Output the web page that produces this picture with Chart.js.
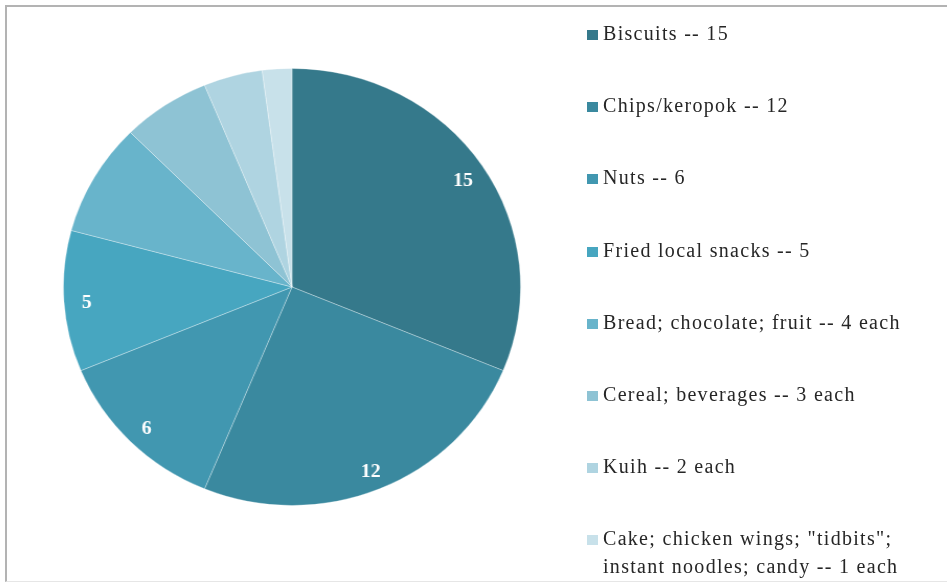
<!DOCTYPE html>
<html>
<head>
<meta charset="utf-8">
<script src="https://cdn.jsdelivr.net/npm/chart.js@4"></script>
<style>
  html, body { margin: 0; padding: 0; background: #fff; }
  body { width: 947px; height: 583px; position: relative; overflow: hidden; }
  #frame { position: absolute; left: 5px; top: 5px; width: 960px; height: 574px;
           border-top: 2px solid #b3b3b3; border-left: 2px solid #b3b3b3; border-bottom: 1px solid #e6e6e6; }
  #pieWrap { position: absolute; left: 73px; top: 68px; width: 438px; height: 438px;
             transform: scaleX(1.046); transform-origin: 50% 50%; }
  #legend { position: absolute; left: 0; top: 0; width: 947px; height: 583px; pointer-events: none; }
  .item { position: absolute; left: 587px; font-family: "Liberation Serif", "Times New Roman", serif;
          font-size: 20px; letter-spacing: 1.3px; color: #262626; line-height: 28px; white-space: nowrap; }
  .sw { position: absolute; left: 0; width: 11px; height: 10px; top: 11px; }
  .txt { position: absolute; left: 16px; top: 0; }
</style>
</head>
<body>
<div id="frame"></div>
<div id="pieWrap"><canvas id="c"></canvas></div>
<div id="legend"></div>
<script>
const categories = [
  "Biscuits -- 15",
  "Chips/keropok -- 12",
  "Nuts -- 6",
  "Fried local snacks -- 5",
  "Bread; chocolate; fruit -- 4 each",
  "Cereal; beverages -- 3 each",
  "Kuih -- 2 each",
  "Cake; chicken wings; \"tidbits\";\ninstant noodles; candy -- 1 each"
];
const values = [15, 12, 6, 5, 4, 3, 2, 1];
const shownLabels = ["15", "12", "6", "5", "", "", "", ""];
const colors = ["#35798b", "#3a899f", "#4197b0", "#47a6c0", "#68b4cb", "#8ec3d4", "#afd4e1", "#c8e1ea"];

const sliceLabels = {
  id: 'sliceLabels',
  afterDatasetsDraw(chart) {
    const ctx = chart.ctx;
    const meta = chart.getDatasetMeta(0);
    ctx.save();
    ctx.fillStyle = '#ffffff';
    ctx.font = 'bold 19px "Liberation Serif", serif';
    ctx.textAlign = 'center';
    ctx.textBaseline = 'middle';
    meta.data.forEach((arc, i) => {
      const t = shownLabels[i];
      if (!t) return;
      const mid = (arc.startAngle + arc.endAngle) / 2;
      const r = arc.outerRadius * 0.9;
      ctx.fillText(t, arc.x + Math.cos(mid) * r, arc.y + Math.sin(mid) * r + 3);
    });
    ctx.restore();
  }
};

new Chart(document.getElementById('c'), {
  type: 'pie',
  data: {
    labels: categories,
    datasets: [{
      data: values,
      backgroundColor: colors,
      borderColor: 'rgba(255,255,255,0.3)',
      borderWidth: 1
    }]
  },
  options: {
    responsive: true,
    maintainAspectRatio: false,
    animation: false,
    layout: { padding: 0 },
    plugins: { legend: { display: false }, tooltip: { enabled: false } }
  },
  plugins: [sliceLabels]
});

const legend = document.getElementById('legend');
categories.forEach((cat, i) => {
  const it = document.createElement('div');
  it.className = 'item';
  it.style.top = (19 + i * 72.2) + 'px';
  const sw = document.createElement('div');
  sw.className = 'sw';
  sw.style.background = colors[i];
  const tx = document.createElement('div');
  tx.className = 'txt';
  tx.innerHTML = cat.split('\n').map(s => s.replace(/&/g,'&amp;').replace(/</g,'&lt;')).join('<br>');
  it.appendChild(sw); it.appendChild(tx);
  legend.appendChild(it);
});
</script>
</body>
</html>
